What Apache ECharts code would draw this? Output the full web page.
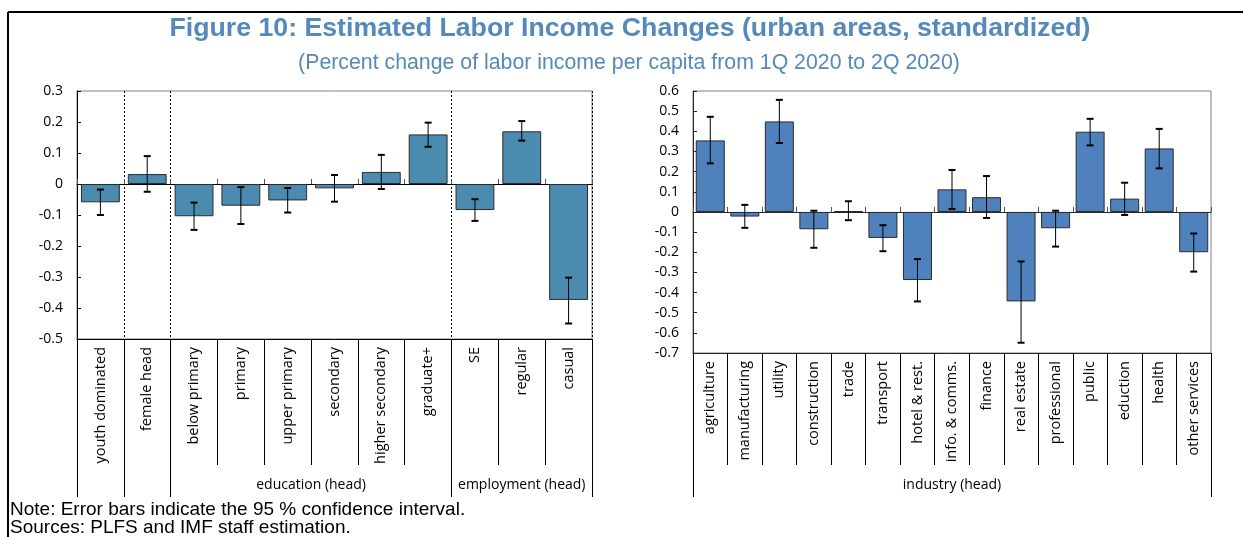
<!DOCTYPE html>
<html>
<head>
<meta charset="utf-8">
<script src="https://cdn.jsdelivr.net/npm/echarts@6/dist/echarts.min.js"></script>
<style>
  html, body { margin: 0; padding: 0; background: #ffffff; }
  #chart { width: 1243px; height: 537px; }
</style>
</head>
<body>
<div id="chart"></div>
<script>
// Household groups (left panel)
const groupCategories = ['youth dominated', 'female head', 'below primary', 'primary', 'upper primary',
  'secondary', 'higher secondary', 'graduate+', 'SE', 'regular', 'casual'];
const groupValues = [-0.059, 0.032, -0.104, -0.070, -0.053, -0.014, 0.039, 0.160, -0.084, 0.170, -0.374];
const groupLow    = [-0.100, -0.025, -0.148, -0.129, -0.092, -0.057, -0.016, 0.120, -0.119, 0.140, -0.450];
const groupHigh   = [-0.018, 0.090, -0.060, -0.010, -0.013, 0.029, 0.094, 0.198, -0.049, 0.203, -0.302];
// Dotted separators inside the plot, long bracket lines below it, and the bracket captions
const groupDividers = [1, 2, 8];
const groupBrackets = [0, 1, 2, 8, 11];
const groupCaptionPos = [5, 9.5];
const groupCaptions = ['education (head)', 'employment (head)'];

// Industry of household head (right panel)
const industryCategories = ['agriculture', 'manufacturing', 'utility', 'construction', 'trade', 'transport',
  'hotel & rest.', 'info. & comms.', 'finance', 'real estate', 'professional', 'public', 'eduction',
  'health', 'other services'];
const industryValues = [0.355, -0.023, 0.449, -0.086, 0.004, -0.129, -0.338, 0.112, 0.073, -0.444,
  -0.081, 0.398, 0.066, 0.315, -0.200];
const industryLow    = [0.241, -0.079, 0.342, -0.178, -0.041, -0.195, -0.444, 0.015, -0.030, -0.649,
  -0.172, 0.330, -0.015, 0.216, -0.296];
const industryHigh   = [0.472, 0.035, 0.556, 0.006, 0.053, -0.066, -0.234, 0.208, 0.178, -0.246,
  0.006, 0.462, 0.145, 0.412, -0.107];
const industryBrackets = [0, 15];
const industryCaptionPos = [7.5];
const industryCaptions = ['industry (head)'];

// Value axes
const leftAxisRange = [-0.5, 0.3];
const rightAxisRange = [-0.7, 0.6];
const axisStep = 0.1;

const titleText = 'Figure 10: Estimated Labor Income Changes (urban areas, standardized)';
const subtitleText = '(Percent change of labor income per capita from 1Q 2020 to 2Q 2020)';
const noteText = 'Note: Error bars indicate the 95 % confidence interval.';
const sourceText = 'Sources: PLFS and IMF staff estimation.';

const uiFont = '"Open Sans", "Noto Sans", sans-serif';
const titleBlue = '#5489BA';

function errorBars(params, api) {
  const x = api.value(0);
  const lo = api.coord([x, api.value(1)]);
  const hi = api.coord([x, api.value(2)]);
  const hw = 3.5;
  const thin = { stroke: '#000', lineWidth: 1 };
  const cap = { stroke: '#000', lineWidth: 2 };
  return {
    type: 'group',
    children: [
      { type: 'line', shape: { x1: lo[0], y1: lo[1], x2: hi[0], y2: hi[1] }, style: thin },
      { type: 'line', shape: { x1: lo[0] - hw, y1: lo[1], x2: lo[0] + hw, y2: lo[1] }, style: cap },
      { type: 'line', shape: { x1: hi[0] - hw, y1: hi[1], x2: hi[0] + hw, y2: hi[1] }, style: cap }
    ]
  };
}

function categoryAxis(gridIndex, data, tickLen, lineColor, dividers) {
  return {
    gridIndex, type: 'category', data, position: 'bottom',
    axisLine: { show: true, onZero: false, lineStyle: { color: lineColor, width: 1 } },
    axisTick: { show: true, interval: 0, length: tickLen, lineStyle: { color: '#000', width: 1 } },
    axisLabel: { interval: 0, rotate: 90, margin: 8, fontSize: 14.5, color: '#000', fontFamily: uiFont },
    splitLine: dividers ? {
      show: true,
      interval: (i) => dividers.includes(i),
      lineStyle: { color: '#000', width: 1, type: [2, 2] }
    } : { show: false }
  };
}

function bracketAxis(gridIndex, count, brackets, captionPos, captions, tickLen, captionMargin) {
  return {
    gridIndex, type: 'value', min: 0, max: count, position: 'bottom',
    axisLine: { show: false, onZero: false },
    axisTick: { show: true, customValues: brackets, length: tickLen, lineStyle: { color: '#000', width: 1 } },
    axisLabel: {
      show: true, customValues: captionPos, margin: captionMargin, fontSize: 14, color: '#000',
      fontFamily: uiFont,
      formatter: (v) => {
        const k = captionPos.findIndex((p) => Math.abs(p - v) < 1e-6);
        return k >= 0 ? captions[k] : '';
      }
    },
    splitLine: { show: false }
  };
}

function zeroAxis(gridIndex, data, lineColor) {
  return {
    gridIndex, type: 'category', data, position: 'bottom',
    axisLine: { show: true, onZero: true, lineStyle: { color: lineColor, width: 1 } },
    axisTick: { show: true, interval: 0, inside: true, length: 5, lineStyle: { color: '#555', width: 1 } },
    axisLabel: { show: false },
    splitLine: { show: false }
  };
}

function valueAxis(gridIndex, range, lineColor) {
  return {
    gridIndex, type: 'value', min: range[0], max: range[1], interval: axisStep,
    axisLine: { show: true, onZero: false, lineStyle: { color: lineColor, width: 1 } },
    axisTick: { show: true, inside: true, length: 4, lineStyle: { color: lineColor } },
    axisLabel: { fontSize: 14, color: '#000', margin: 14, fontFamily: uiFont },
    splitLine: { show: false }
  };
}

const chart = echarts.init(document.getElementById('chart'), null, { renderer: 'canvas' });

chart.setOption({
  animation: false,
  backgroundColor: '#ffffff',
  grid: [
    { left: 77, top: 91, width: 515, height: 248, show: true, borderColor: '#808080', borderWidth: 1 },
    { left: 693, top: 91, width: 518, height: 262, show: true, borderColor: '#808080', borderWidth: 1 }
  ],
  xAxis: [
    categoryAxis(0, groupCategories, 126, '#000', groupDividers),
    bracketAxis(0, groupCategories.length, groupBrackets, groupCaptionPos, groupCaptions, 158, 139),
    zeroAxis(0, groupCategories, '#000'),
    categoryAxis(1, industryCategories, 112, '#262626', null),
    bracketAxis(1, industryCategories.length, industryBrackets, industryCaptionPos, industryCaptions, 144, 125),
    zeroAxis(1, industryCategories, '#262626')
  ],
  yAxis: [
    valueAxis(0, leftAxisRange, '#000'),
    valueAxis(1, rightAxisRange, '#262626')
  ],
  series: [
    {
      type: 'bar', xAxisIndex: 0, yAxisIndex: 0, data: groupValues,
      barCategoryGap: '17%',
      itemStyle: { color: '#4B8BAF', borderColor: '#2b2b2b', borderWidth: 1 }
    },
    {
      type: 'custom', xAxisIndex: 0, yAxisIndex: 0, z: 5,
      encode: { x: 0, y: [1, 2] },
      data: groupCategories.map((c, i) => [i, groupLow[i], groupHigh[i]]),
      renderItem: errorBars
    },
    {
      type: 'bar', xAxisIndex: 3, yAxisIndex: 1, data: industryValues,
      barCategoryGap: '16%',
      itemStyle: { color: '#4F81BD', borderColor: '#2b2b2b', borderWidth: 1 }
    },
    {
      type: 'custom', xAxisIndex: 3, yAxisIndex: 1, z: 5,
      encode: { x: 0, y: [1, 2] },
      data: industryCategories.map((c, i) => [i, industryLow[i], industryHigh[i]]),
      renderItem: errorBars
    }
  ],
  graphic: [
    { type: 'line', shape: { x1: 8, y1: 12, x2: 1243, y2: 12 }, style: { stroke: '#000', lineWidth: 2 } },
    { type: 'line', shape: { x1: 8, y1: 12, x2: 8, y2: 537 }, style: { stroke: '#000', lineWidth: 2 } },
    {
      type: 'text', x: 630, y: 29,
      style: { text: titleText, fill: titleBlue, font: 'bold 26.7px "Liberation Sans", Arial, sans-serif',
        textAlign: 'center', textVerticalAlign: 'middle' }
    },
    {
      type: 'text', x: 629, y: 63,
      style: { text: subtitleText, fill: titleBlue, font: '21.3px "Liberation Sans", Arial, sans-serif',
        textAlign: 'center', textVerticalAlign: 'middle' }
    },
    {
      type: 'text', x: 10, y: 510,
      style: { text: noteText, fill: '#000', font: '19px "Liberation Sans", Arial, sans-serif',
        textAlign: 'left', textVerticalAlign: 'middle' }
    },
    {
      type: 'text', x: 10, y: 528,
      style: { text: sourceText, fill: '#000', font: '19px "Liberation Sans", Arial, sans-serif',
        textAlign: 'left', textVerticalAlign: 'middle' }
    }
  ]
});
</script>
</body>
</html>
